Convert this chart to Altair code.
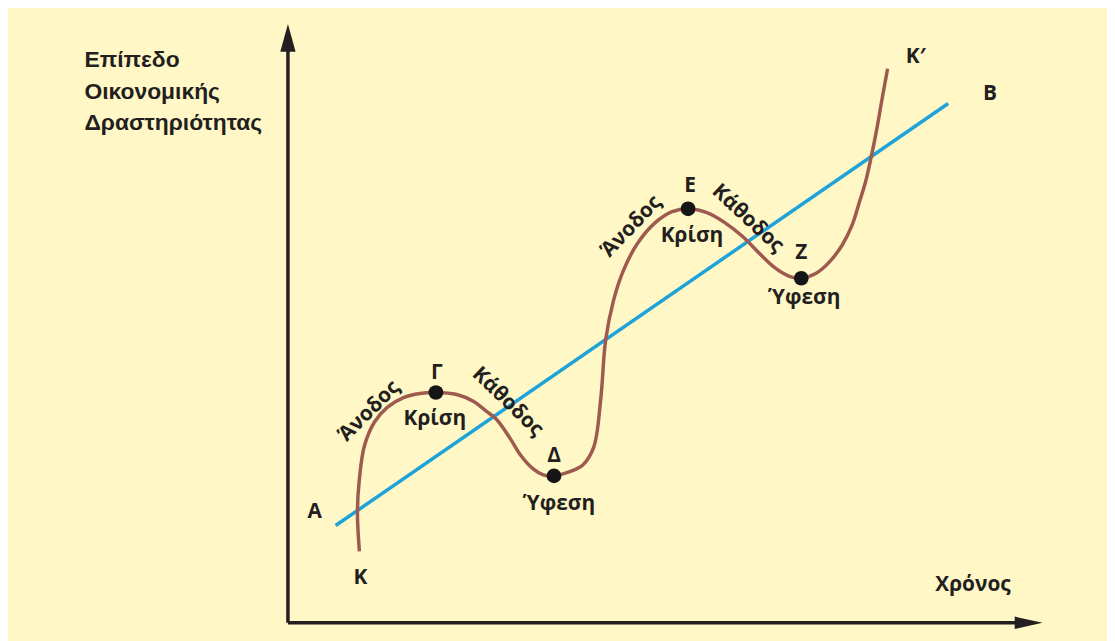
import altair as alt
import pandas as pd

# ---- data (time t: 0..100 along the x axis, level L: 0..100 along the y axis)
curve_t = [9.47, 9.21, 9.47, 10.13, 11.45, 13.16, 15.39, 17.50, 19.61, 22.37, 24.61, 26.32,
           27.63, 29.34, 30.92, 32.50, 33.82, 35.26, 37.24, 39.08, 40.53, 41.45, 42.11, 43.16,
           44.47, 46.32, 48.68, 50.92, 53.03, 55.53, 57.89, 60.26, 62.50, 64.47, 66.45, 68.03,
           70.00, 71.71, 73.42, 74.74, 75.79, 76.58, 77.24, 78.03, 78.68, 79.47]
curve_L = [11.94, 18.57, 24.05, 29.52, 33.50, 35.99, 37.65, 38.31, 38.47, 38.14, 36.98, 35.32,
           34.00, 31.01, 27.86, 25.70, 24.71, 24.54, 25.21, 26.37, 29.35, 37.31, 47.26, 53.90,
           58.87, 63.35, 66.83, 68.66, 69.15, 68.49, 66.83, 64.51, 61.69, 59.37, 57.88, 57.55,
           58.37, 60.20, 63.02, 66.33, 70.48, 73.80, 77.45, 82.42, 87.06, 92.54]

trend_t = [6.32, 87.5]
trend_L = [16.25, 86.73]

dot_names = ["Γ", "Δ", "Ε", "Ζ"]
dot_t = [19.61, 35.26, 53.03, 68.03]
dot_L = [38.47, 24.54, 69.15, 57.55]

label_text = ["Α", "Κ", "Γ", "Κρίση", "Δ", "Ύφεση", "Ε", "Κρίση", "Ζ", "Ύφεση", "Κ′", "Β",
              "Άνοδος", "Κάθοδος", "Άνοδος", "Κάθοδος", "Χρόνος"]
label_t = [3.55, 9.61, 19.74, 19.47, 35.26, 35.92, 53.29, 53.55, 68.03, 68.42, 83.2, 93.03,
           10.79, 29.1, 45.53, 60.92, 90.79]
label_L = [18.57, 7.46, 41.79, 34.0, 27.86, 19.90, 72.97, 64.68, 61.69, 54.23, 94.53, 88.39,
           35.32, 36.9, 66.17, 67.50, 6.30]
label_angle = [0, 0, 0, 0, 0, 0, 0, 0, 0, 0, 0, 0, 315, 44, 314, 43, 0]

ytitle_lines = ["Επίπεδο", "Οικονομικής", "Δραστηριότητας"]
ytitle_t = [-26.97, -26.97, -26.97]
ytitle_L = [94.03, 88.72, 83.42]

# ---- frames
curve = pd.DataFrame({"t": curve_t, "L": curve_L, "i": range(len(curve_t))})
trend = pd.DataFrame({"t": trend_t, "L": trend_L})
dots = pd.DataFrame({"name": dot_names, "t": dot_t, "L": dot_L})
labels = pd.DataFrame({"text": label_text, "t": label_t, "L": label_L, "a": label_angle})
ytitle = pd.DataFrame({"text": ytitle_lines, "t": ytitle_t, "L": ytitle_L})
yaxis = pd.DataFrame({"t": [0], "L": [0], "L2": [96]})
xaxis = pd.DataFrame({"t": [0], "t2": [96.5], "L": [0]})
yarrow = pd.DataFrame({"t": [0], "L": [100]})
xarrow = pd.DataFrame({"t": [100], "L": [0]})

INK = "#231f20"
xs = alt.Scale(domain=[-37.1, 108.55], nice=False, zero=False)
ys = alt.Scale(domain=[-2.65, 102.3], nice=False, zero=False)
X = alt.X("t:Q", scale=xs, axis=None)
Y = alt.Y("L:Q", scale=ys, axis=None)

y_rule = alt.Chart(yaxis).mark_rule(color=INK, strokeWidth=3.5).encode(x=X, y=Y, y2="L2:Q")
x_rule = alt.Chart(xaxis).mark_rule(color=INK, strokeWidth=3.5).encode(x=X, x2="t2:Q", y=Y)
y_head = alt.Chart(yarrow).mark_point(
    shape="M0,-1L0.55,1L-0.55,1Z", size=784, filled=True, opacity=1, color=INK, yOffset=14
).encode(x=X, y=Y)
x_head = alt.Chart(xarrow).mark_point(
    shape="M1,0L-1,-0.45L-1,0.45Z", size=784, filled=True, opacity=1, color=INK, xOffset=-14
).encode(x=X, y=Y)

trend_line = alt.Chart(trend).mark_line(color="#1ea2da", strokeWidth=3.5).encode(x=X, y=Y)
cycle = alt.Chart(curve).mark_line(
    color="#9e5a4f", strokeWidth=3.5, interpolate="catmull-rom"
).encode(x=X, y=Y, order="i:Q")
points = alt.Chart(dots).mark_circle(size=220, color="#151515", opacity=1).encode(x=X, y=Y)

texts = alt.Chart(labels).mark_text(
    font="Open Sans", fontWeight="bold", fontSize=21, color=INK, align="center", baseline="middle"
).encode(x=X, y=Y, text="text:N", angle=alt.Angle("a:Q", scale=None))

ytexts = alt.Chart(ytitle).mark_text(
    font="Liberation Sans", fontWeight="bold", fontSize=23, color=INK, align="left", baseline="middle"
).encode(x=X, y=Y, text="text:N")

chart = alt.layer(
    y_rule, x_rule, y_head, x_head, trend_line, cycle, points, texts, ytexts
).properties(
    width=1107, height=633, background="#fff7c6", padding=0, autosize="none"
).configure_view(strokeWidth=0)

chart.save("out.html", embed_options={"renderer": "svg", "actions": False})
